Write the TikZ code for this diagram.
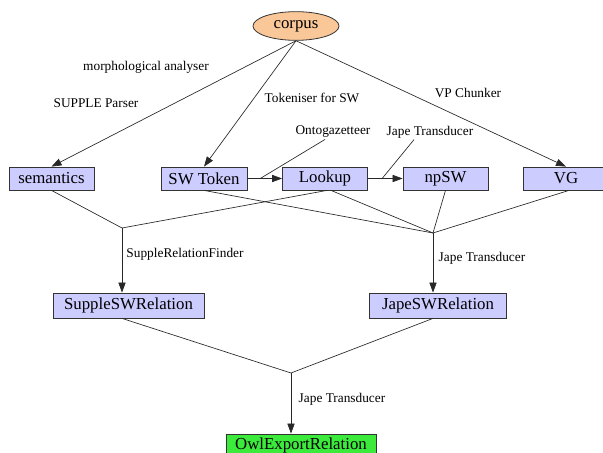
\documentclass[tikz,border=0pt]{standalone}
\usepackage{fontspec}
\setmainfont{Liberation Serif}
\usetikzlibrary{arrows.meta,shapes.geometric,calc}

\definecolor{procfill}{RGB}{204,204,255}
\definecolor{srcfill}{RGB}{250,200,152}
\definecolor{outfill}{RGB}{60,234,60}
\definecolor{edgecol}{RGB}{40,40,40}

\tikzset{
  box/.style={draw=black!80, line width=0.6pt, fill=procfill, inner sep=0pt,
    minimum width=63.75pt, minimum height=17.25pt,
    font=\fontsize{12.6}{15}\selectfont},
  widebox/.style={box, minimum height=18.75pt},
  src/.style={ellipse, draw=black!80, line width=0.6pt, fill=srcfill, inner sep=0pt,
    minimum width=64.5pt, minimum height=21.5pt,
    font=\fontsize{12.6}{15}\selectfont},
  lbl/.style={inner sep=0pt, font=\fontsize{10}{12}\selectfont},
  conn/.style={draw=edgecol, line width=0.5pt},
  arr/.style={conn, -{Triangle[length=7.5pt,width=5.4pt]}},
}

\begin{document}
\begin{tikzpicture}[x=0.75pt, y=-0.75pt]
  \useasboundingbox (0,0) rectangle (603,453);
  \clip (0,0) rectangle (603,453);

  % source and processing nodes
  \node[src] (corpus) at (296,26) {corpus};
  \node[box] (semantics) at (51.5,178.5) {semantics};
  \node[box, minimum width=64.5pt] (swtoken) at (204,178.5) {SW Token};
  \node[box] (lookup) at (325,178.5) {Lookup};
  \node[box] (npsw) at (445.5,178.5) {npSW};
  \node[box] (vg) at (566,178.5) {VG};
  \node[widebox, minimum width=113.25pt] (supple) at (128.5,305.5) {SuppleSWRelation};
  \node[widebox, minimum width=102.75pt] (jape) at (438,305.5) {JapeSWRelation};
  \node[box, minimum width=112.5pt, fill=outfill] (owl) at (301,445.5) {OwlExportRelation};

  % junction points of the merged edges
  \coordinate (m1) at (122,228);
  \coordinate (m2) at (433,233);
  \coordinate (m3) at (291,373);

  % edge labels
  \node[lbl] (morph) at (146,67) {morphological analyser};
  \node[lbl] (supplep) at (96,103) {SUPPLE Parser};
  \node[lbl] (tokl) at (312,98) {Tokeniser for SW};
  \node[lbl] (vpl) at (468,93) {VP Chunker};
  \node[lbl] (onto) at (333,132) {Ontogazetteer};
  \node[lbl] (japetop) at (430,132) {Jape Transducer};
  \node[lbl] (srf) at (185,254) {SuppleRelationFinder};
  \node[lbl] (japemid) at (482,258) {Jape Transducer};
  \node[lbl] (japebot) at (342,399) {Jape Transducer};

  % edges out of the corpus
  \draw[arr] (corpus.south) -- (semantics.north);
  \draw[arr] (corpus.south) -- (swtoken.north);
  \draw[arr] (corpus.south) -- (vg.north);

  % token pipeline
  \draw[arr] (swtoken.east) -- (lookup.west);
  \draw[arr] (lookup.east) -- (npsw.west);
  \coordinate (ontoEnd) at ($(swtoken.east)!0.37!(lookup.west)$);
  \coordinate (japeEnd) at ($(lookup.east)!0.41!(npsw.west)$);
  \draw[conn] ([xshift=-6pt,yshift=-1pt]onto.south) -- (ontoEnd);
  \draw[conn] ([xshift=-12pt,yshift=-1pt]japetop.south) -- (japeEnd);

  % relation finder merge
  \draw[conn] (semantics.south) -- (m1);
  \draw[conn] ([xshift=1.5pt]lookup.south) -- (m1);
  \draw[arr] (m1) -- (m1 |- supple.north);

  % jape transducer merge
  \draw[conn] (swtoken.south) -- (m2);
  \draw[conn] ([xshift=4.5pt]lookup.south) -- (m2);
  \draw[conn] (npsw.south) -- (m2);
  \draw[conn] ([xshift=2.25pt]vg.south) -- (m2);
  \draw[arr] (m2) -- (m2 |- jape.north);

  % export merge
  \draw[conn] (m1 |- supple.south) -- (m3);
  \draw[conn] (m2 |- jape.south) -- (m3);
  \draw[arr] (m3) -- (m3 |- owl.north);
\end{tikzpicture}
\end{document}
